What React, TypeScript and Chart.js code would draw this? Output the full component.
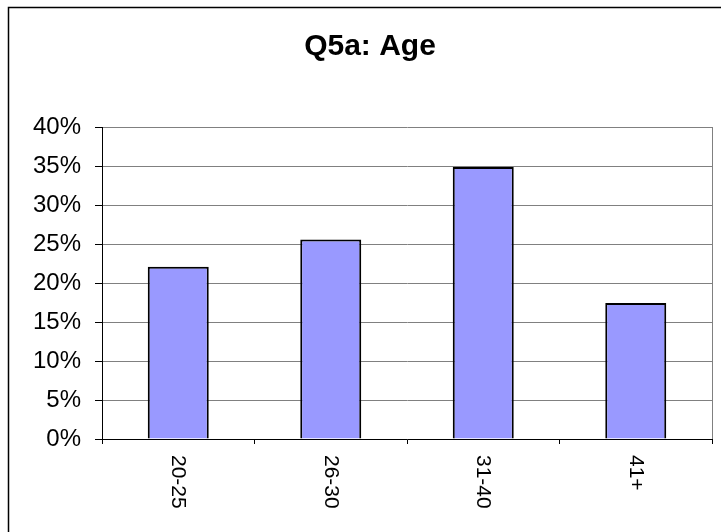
import React, { useEffect, useRef } from "react";
import { Chart, registerables } from "chart.js";

Chart.register(...registerables);

const categories = ["20-25", "26-30", "31-40", "41+"];
const percentValues = [22.09, 25.58, 34.88, 17.44];
const yTickMin = 0;
const yTickMax = 40;
const yTickStep = 5;
const chartTitle = "Q5a: Age";

const FONT = "Arial, 'Liberation Sans', sans-serif";

const framePlugin = {
  id: "frame",
  beforeDatasetsDraw(chart: any) {
    const { ctx, chartArea } = chart;
    ctx.save();
    ctx.strokeStyle = "#808080";
    ctx.lineWidth = 1;
    ctx.beginPath();
    const r = Math.round(chartArea.right) + 0.5;
    ctx.moveTo(r, chartArea.top);
    ctx.lineTo(r, chartArea.bottom);
    ctx.stroke();
    ctx.restore();
  },
  afterDraw(chart: any) {
    const { ctx } = chart;
    ctx.save();
    ctx.strokeStyle = "#000";
    ctx.lineWidth = 1.5;
    ctx.strokeRect(8.5, 7.5, 900, 700);
    // rotated x labels (reading top to bottom)
    const xs = chart.scales.x;
    ctx.fillStyle = "#000";
    ctx.font = `21px ${FONT}`;
    ctx.textAlign = "left";
    ctx.textBaseline = "middle";
    categories.forEach((c, i) => {
      const x = xs.getPixelForValue(i);
      ctx.save();
      ctx.translate(x, chart.chartArea.bottom + 16);
      ctx.rotate(Math.PI / 2);
      ctx.fillText(c, 0, 0);
      ctx.restore();
    });
    ctx.restore();
  },
};

export default function App() {
  const ref = useRef<HTMLCanvasElement | null>(null);
  useEffect(() => {
    document.body.style.margin = "0";
    if (!ref.current) return;
    const chart = new Chart(ref.current, {
      type: "bar",
      data: {
        labels: categories,
        datasets: [
          {
            data: percentValues,
            backgroundColor: "#9999FF",
            borderColor: "#000",
            borderWidth: 2,
            categoryPercentage: 1,
            barPercentage: 0.4,
          },
        ],
      },
      options: {
        responsive: false,
        animation: false,
        devicePixelRatio: 1,
        layout: { padding: { left: 28, right: 9, top: 0, bottom: 0 } },
        plugins: {
          legend: { display: false },
          tooltip: { enabled: false },
          title: {
            display: true,
            text: chartTitle,
            color: "#000",
            font: { family: FONT, size: 30, weight: "bold", lineHeight: 1.2 },
            padding: { top: 29, bottom: 62 },
          },
        },
        scales: {
          x: {
            offset: true,
            grid: {
              display: true,
              drawOnChartArea: false,
              drawTicks: true,
              tickLength: 5,
              tickColor: "#000",
              offset: true,
            },
            border: { display: true, color: "#000", width: 1 },
            ticks: { display: false },
            afterFit(scale: any) {
              scale.height = 93;
            },
          },
          y: {
            min: yTickMin,
            max: yTickMax,
            grid: {
              color: "#808080",
              lineWidth: 1,
              drawTicks: true,
              tickLength: 7,
              tickColor: "#000",
            },
            border: { display: true, color: "#000", width: 1 },
            ticks: {
              stepSize: yTickStep,
              color: "#000",
              padding: 14,
              font: { family: FONT, size: 24 },
              callback: (v: any) => `${v}%`,
            },
            afterFit(scale: any) {
              scale.width = 74;
            },
          },
        },
      },
      plugins: [framePlugin],
    });
    return () => chart.destroy();
  }, []);
  return (
    <div style={{ width: 721, height: 532, background: "#fff" }}>
      <canvas ref={ref} width={721} height={532} style={{ display: "block" }} />
    </div>
  );
}
